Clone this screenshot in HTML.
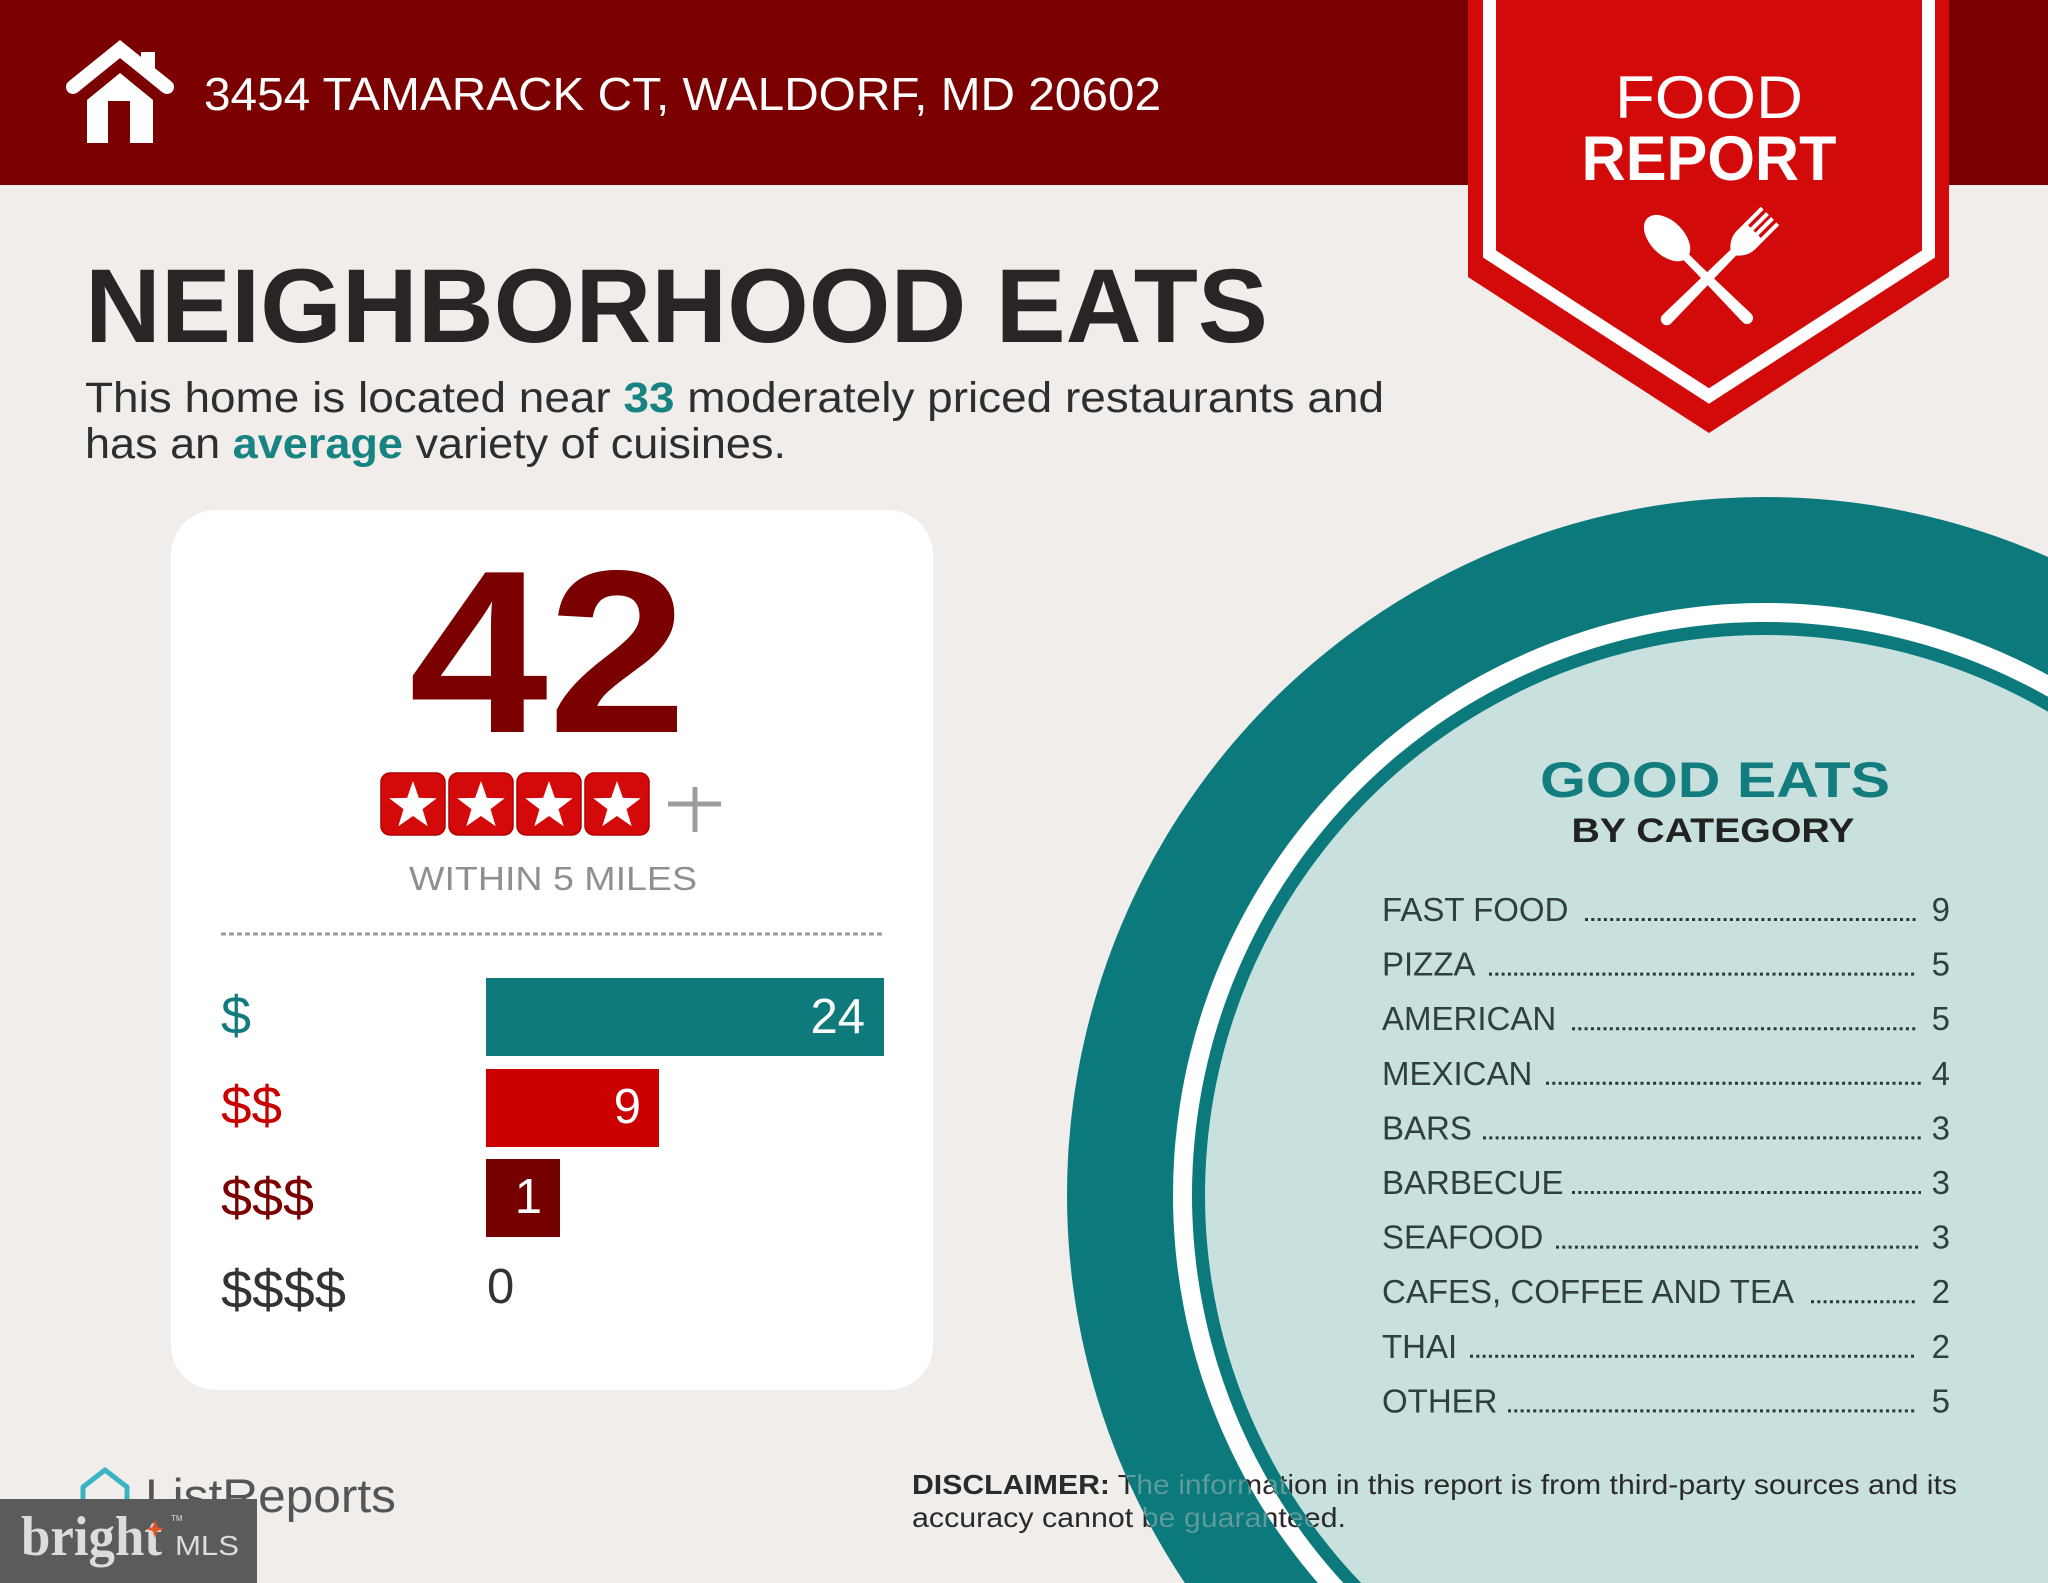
<!DOCTYPE html>
<html>
<head>
<meta charset="utf-8">
<style>
  html,body{margin:0;padding:0;background:#f1edea;width:2048px;height:1583px;overflow:hidden;}
  svg{display:block;overflow:hidden;}
  .sans{font-family:"Liberation Sans",Arial,sans-serif;}
  .serif{font-family:"Liberation Serif","Times New Roman",serif;}
</style>
</head>
<body>
<svg width="2048" height="1583" viewBox="0 0 2048 1583" xmlns="http://www.w3.org/2000/svg">
  <defs>
    <path id="star" d="M0,-25 L5.88,-8.09 L23.78,-7.73 L9.51,3.09 L14.69,20.23 L0,10 L-14.69,20.23 L-9.51,3.09 L-23.78,-7.73 L-5.88,-8.09 Z"/>
    <clipPath id="tealBands">
      <path clip-rule="evenodd" d="M2048,556.95 A698,698 0 0,0 1184.78,1583 L2048,1583 Z
        M2048,675.02 A592,592 0 0,0 1317.88,1583 L2048,1583 Z
        M2048,696.76 A573,573 0 0,0 1343.35,1583 L2048,1583 Z
        M2048,711.77 A560,560 0 0,0 1361.2,1583 L2048,1583 Z"/>
    </clipPath>
  </defs>

  <!-- background -->
  <rect x="0" y="0" width="2048" height="1583" fill="#f1edea"/>

  <!-- header bar -->
  <rect x="0" y="0" width="2048" height="185" fill="#7b0000"/>

  <!-- house icon -->
  <g fill="#ffffff">
    <rect x="141" y="52" width="14" height="22"/>
    <polyline points="73,87 120,49 167,87" fill="none" stroke="#ffffff" stroke-width="14" stroke-linejoin="miter" stroke-linecap="round"/>
    <path d="M87,143 V100 L120,73 L153,100 V143 H130 V101 H108 V143 Z"/>
  </g>

  <text class="sans" x="204" y="110" font-size="46" fill="#ffffff" textLength="957" lengthAdjust="spacingAndGlyphs">3454 TAMARACK CT, WALDORF, MD 20602</text>

  <!-- Food report banner -->
  <path d="M1468,0 H1949 V277 L1709,433 L1468,277 Z" fill="#d30a0a"/>
  <path d="M1489.5,0 V254 L1709,396 L1928.5,254 V0" fill="none" stroke="#ffffff" stroke-width="13"/>
  <text class="sans" x="1709" y="118" font-size="60" fill="#ffffff" text-anchor="middle" textLength="188" lengthAdjust="spacingAndGlyphs">FOOD</text>
  <text class="sans" x="1709" y="180" font-size="63" font-weight="bold" fill="#ffffff" text-anchor="middle" textLength="255" lengthAdjust="spacingAndGlyphs">REPORT</text>

  <!-- spoon -->
  <g transform="translate(1648,219) rotate(-45)" fill="#ffffff">
    <ellipse cx="0" cy="27" rx="17" ry="28"/>
    <path d="M-3.5,50 L3.5,50 L6,140 A6,6 0 0 1 -6,140 Z"/>
    <rect x="-4" y="48" width="8" height="20"/>
  </g>
  <!-- fork -->
  <g transform="translate(1770,216) rotate(45)" fill="#ffffff">
    <rect x="-13" y="0" width="4" height="24"/>
    <rect x="-5.5" y="0" width="4" height="24"/>
    <rect x="1.5" y="0" width="4" height="24"/>
    <rect x="9" y="0" width="4" height="24"/>
    <path d="M-13,22 H13 V34 Q13,44 4,52 H-4 Q-13,44 -13,34 Z"/>
    <path d="M-4,50 L4,50 L6,146 A6,6 0 0 1 -6,146 Z"/>
  </g>

  <!-- Title -->
  <text class="sans" x="85" y="342" font-size="105" font-weight="bold" fill="#2a2525" textLength="1183" lengthAdjust="spacingAndGlyphs">NEIGHBORHOOD EATS</text>

  <!-- paragraph -->
  <g class="sans" font-size="43" fill="#2e2e2e">
    <text x="85" y="412" textLength="525.7" lengthAdjust="spacingAndGlyphs">This home is located near</text>
    <text x="623.5" y="412" font-weight="bold" fill="#178383" textLength="51" lengthAdjust="spacingAndGlyphs">33</text>
    <text x="687.3" y="412" textLength="696.7" lengthAdjust="spacingAndGlyphs">moderately priced restaurants and</text>
    <text x="85" y="458" textLength="135.2" lengthAdjust="spacingAndGlyphs">has an</text>
    <text x="232.7" y="458" font-weight="bold" fill="#178383" textLength="170.3" lengthAdjust="spacingAndGlyphs">average</text>
    <text x="415.5" y="458" textLength="370.5" lengthAdjust="spacingAndGlyphs">variety of cuisines.</text>
  </g>

  <!-- Card -->
  <rect x="171" y="510" width="762" height="880" rx="45" ry="45" fill="#ffffff"/>
  <text class="sans" x="548" y="732" font-size="232" font-weight="bold" fill="#7b0000" text-anchor="middle" textLength="278" lengthAdjust="spacingAndGlyphs">42</text>

  <!-- stars -->
  <g>
    <rect x="381" y="773" width="64" height="62" rx="9" fill="#d40a0a" stroke="#b00000" stroke-width="1.5"/>
    <rect x="449" y="773" width="64" height="62" rx="9" fill="#d40a0a" stroke="#b00000" stroke-width="1.5"/>
    <rect x="517" y="773" width="64" height="62" rx="9" fill="#d40a0a" stroke="#b00000" stroke-width="1.5"/>
    <rect x="585" y="773" width="64" height="62" rx="9" fill="#d40a0a" stroke="#b00000" stroke-width="1.5"/>
    <use href="#star" transform="translate(413,806)" fill="#ffffff"/>
    <use href="#star" transform="translate(481,806)" fill="#ffffff"/>
    <use href="#star" transform="translate(549,806)" fill="#ffffff"/>
    <use href="#star" transform="translate(617,806)" fill="#ffffff"/>
  </g>
  <line x1="668" y1="804" x2="721" y2="804" stroke="#9d9d9d" stroke-width="5"/>
  <line x1="695" y1="787" x2="695" y2="832" stroke="#9d9d9d" stroke-width="5"/>

  <text class="sans" x="553" y="890" font-size="33" fill="#8f8f8f" text-anchor="middle" textLength="288" lengthAdjust="spacingAndGlyphs">WITHIN 5 MILES</text>

  <line x1="221" y1="934" x2="884" y2="934" stroke="#9a9a9a" stroke-width="3" stroke-dasharray="5 3"/>

  <!-- bars -->
  <rect x="486" y="978" width="398" height="78" fill="#0f7a7c"/>
  <rect x="486" y="1069" width="173" height="78" fill="#cc0000"/>
  <rect x="486" y="1159" width="74" height="78" fill="#740000"/>
  <g class="sans" font-size="49" fill="#ffffff" text-anchor="end">
    <text x="865" y="1033">24</text>
    <text x="641" y="1123">9</text>
    <text x="542" y="1213">1</text>
  </g>
  <text class="sans" x="487" y="1303" font-size="49" fill="#333333">0</text>

  <g class="sans" font-size="54">
    <text x="221" y="1034" fill="#117b7d" textLength="30" lengthAdjust="spacingAndGlyphs">$</text>
    <text x="221" y="1124" fill="#c80000" textLength="61" lengthAdjust="spacingAndGlyphs">$$</text>
    <text x="221" y="1216" fill="#7b0000" textLength="93" lengthAdjust="spacingAndGlyphs">$$$</text>
    <text x="221" y="1308" fill="#333333" textLength="125" lengthAdjust="spacingAndGlyphs">$$$$</text>
  </g>

  <!-- ListReports logo -->
  <path d="M83,1487 L105,1470 L127,1487 V1512 H83 Z" fill="none" stroke="#3ab4c2" stroke-width="5" stroke-linejoin="round"/>
  <text class="sans" x="145" y="1512" font-size="47" fill="#555555" textLength="251" lengthAdjust="spacingAndGlyphs">ListReports</text>

  <!-- Circle (clipped to frame) -->
  <path d="M2048,556.95 A698,698 0 0,0 1184.78,1583 L2048,1583 Z" fill="#0c7a7c"/>
  <path d="M2048,675.02 A592,592 0 0,0 1317.88,1583 L2048,1583 Z" fill="#ffffff"/>
  <path d="M2048,696.76 A573,573 0 0,0 1343.35,1583 L2048,1583 Z" fill="#0c7a7c"/>
  <path d="M2048,711.77 A560,560 0 0,0 1361.2,1583 L2048,1583 Z" fill="#c9e1de"/>

  <text class="sans" x="1715" y="797" font-size="50" font-weight="bold" fill="#127c7e" text-anchor="middle" textLength="350" lengthAdjust="spacingAndGlyphs">GOOD EATS</text>
  <text class="sans" x="1713" y="842" font-size="34" font-weight="bold" fill="#222222" text-anchor="middle" textLength="283" lengthAdjust="spacingAndGlyphs">BY CATEGORY</text>

  <!-- list -->
  <g class="sans" font-size="33" fill="#2f3e3e">
    <text x="1382" y="921">FAST FOOD</text>
    <text x="1382" y="975.6">PIZZA</text>
    <text x="1382" y="1030.2">AMERICAN</text>
    <text x="1382" y="1084.8">MEXICAN</text>
    <text x="1382" y="1139.4">BARS</text>
    <text x="1382" y="1194">BARBECUE</text>
    <text x="1382" y="1248.6">SEAFOOD</text>
    <text x="1382" y="1303.2">CAFES, COFFEE AND TEA</text>
    <text x="1382" y="1357.8">THAI</text>
    <text x="1382" y="1412.4">OTHER</text>
  </g>
  <g class="sans" font-size="33" fill="#2f3e3e" text-anchor="end">
    <text x="1950" y="921">9</text>
    <text x="1950" y="975.6">5</text>
    <text x="1950" y="1030.2">5</text>
    <text x="1950" y="1084.8">4</text>
    <text x="1950" y="1139.4">3</text>
    <text x="1950" y="1194">3</text>
    <text x="1950" y="1248.6">3</text>
    <text x="1950" y="1303.2">2</text>
    <text x="1950" y="1357.8">2</text>
    <text x="1950" y="1412.4">5</text>
  </g>
  <g stroke="#263a3a" stroke-width="3" stroke-dasharray="3 3.3">
    <line x1="1585" y1="919.5" x2="1917" y2="919.5"/>
    <line x1="1489" y1="974.1" x2="1917" y2="974.1"/>
    <line x1="1572" y1="1028.7" x2="1917" y2="1028.7"/>
    <line x1="1546" y1="1083.3" x2="1921" y2="1083.3"/>
    <line x1="1483" y1="1137.9" x2="1921" y2="1137.9"/>
    <line x1="1572" y1="1192.5" x2="1921" y2="1192.5"/>
    <line x1="1556" y1="1247.1" x2="1921" y2="1247.1"/>
    <line x1="1811" y1="1301.7" x2="1917" y2="1301.7"/>
    <line x1="1470" y1="1356.3" x2="1917" y2="1356.3"/>
    <line x1="1508" y1="1410.9" x2="1917" y2="1410.9"/>
  </g>

  <!-- disclaimer -->
  <g class="sans" font-size="28" fill="#2a2a2a">
    <text x="912" y="1494" textLength="1045" lengthAdjust="spacingAndGlyphs"><tspan font-weight="bold">DISCLAIMER:</tspan> The information in this report is from third-party sources and its</text>
    <text x="912" y="1527" textLength="434" lengthAdjust="spacingAndGlyphs">accuracy cannot be guaranteed.</text>
  </g>
  <g class="sans" font-size="28" fill="#5a9e9f" clip-path="url(#tealBands)">
    <text x="912" y="1494" textLength="1045" lengthAdjust="spacingAndGlyphs"><tspan font-weight="bold">DISCLAIMER:</tspan> The information in this report is from third-party sources and its</text>
    <text x="912" y="1527" textLength="434" lengthAdjust="spacingAndGlyphs">accuracy cannot be guaranteed.</text>
  </g>

  <!-- bright MLS watermark -->
  <rect x="0" y="1499" width="257" height="84" fill="#5b5b5b"/>
  <text class="serif" x="21" y="1555" font-size="56" font-weight="bold" fill="#dcdcdc" textLength="141" lengthAdjust="spacingAndGlyphs">bright</text>
  <path d="M155,1520 L157.5,1527 L164,1529 L157.5,1531 L155,1538 L152.5,1531 L146,1529 L152.5,1527 Z" fill="#e0552a"/>
  <text class="sans" x="171" y="1521" font-size="8" fill="#dcdcdc">TM</text>
  <text class="sans" x="175" y="1555" font-size="28" fill="#dcdcdc" textLength="64" lengthAdjust="spacingAndGlyphs">MLS</text>
</svg>
</body>
</html>
